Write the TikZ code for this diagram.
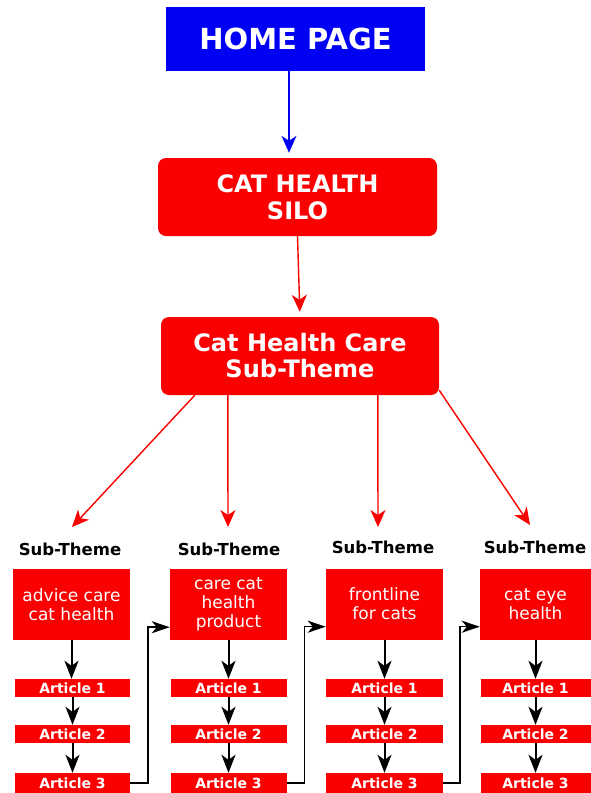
\documentclass[tikz,border=0pt]{standalone}
\usepackage{fontspec}
\setmainfont{DejaVu Sans}
\usetikzlibrary{arrows.meta,calc}
\definecolor{sred}{RGB}{250,0,0}
\definecolor{sblue}{RGB}{0,0,245}
\tikzset{
  x=1pt,y=-1pt,
  topbox/.style={fill=sblue,text=white,font=\bfseries\fontsize{29}{32}\selectfont,minimum width=259pt,minimum height=64pt,inner sep=0pt},
  redbox/.style={fill=sred,text=white,rounded corners=8pt,align=center,minimum width=279pt,minimum height=78pt,inner sep=0pt},
  themebox/.style={fill=sred,text=white,align=center,font=\fontsize{17}{19}\selectfont,minimum width=117pt,minimum height=71pt,inner sep=0pt},
  artbox/.style={fill=sred,text=white,font=\bfseries\fontsize{14}{15}\selectfont,minimum width=116pt,minimum height=18pt,inner sep=0pt},
  stlabel/.style={font=\bfseries\fontsize{16.5}{18}\selectfont,text=black},
  redarrow/.style={draw=sred,line width=1.4pt,-{Stealth[length=17pt,width=15pt,inset=5pt]}},
  bluearrow/.style={draw=sblue,line width=1.5pt,-{Stealth[length=17pt,width=15pt,inset=5pt]}},
  blkarrow/.style={draw=black,line width=2pt,-{Stealth[length=18pt,width=14pt,inset=5pt]}},
  connarrow/.style={draw=black,line width=1.5pt,-{Stealth[length=18pt,width=12pt,inset=5pt]}},
}
\begin{document}
\begin{tikzpicture}
\useasboundingbox (0,0) rectangle (591,793);
\node[topbox] (home) at (295.5,39) {HOME PAGE};
\node[redbox,font=\bfseries\fontsize{24}{27}\selectfont] (silo) at (297.5,197) {CAT HEALTH\\SILO};
\node[redbox,font=\bfseries\fontsize{24}{26}\selectfont,minimum width=278pt] (sub) at (300,356) {Cat Health Care\\Sub-Theme};
\draw[bluearrow,shorten >=5pt] (289,71) -- (silo.north -| 289,0);
\draw[redarrow,shorten >=5pt] (silo.south) -- (sub.north);
% sub-theme labels
\node[stlabel] (l1) at (70,549) {Sub-Theme};
\node[stlabel] (l2) at (229,549) {Sub-Theme};
\node[stlabel] (l3) at (383,547) {Sub-Theme};
\node[stlabel] (l4) at (535,547) {Sub-Theme};
\coordinate (e1) at (72,527);
\coordinate (e2) at (228,527);
\coordinate (e3) at (378,527);
\coordinate (e4) at (530,525);
\draw[redarrow] ($(sub.south west)+(34,0)$) -- (e1);
\draw[redarrow] ($(sub.south west)+(67,0)$) -- (e2);
\draw[redarrow] ($(sub.south west)+(217,0)$) -- (e3);
\draw[redarrow] ($(sub.south east)+(0,-5)$) -- (e4);
% theme boxes
\node[themebox] (b1) at (71.5,604.5) {advice care\\cat health};
\node[themebox] (b2) at (228.5,604.5) {care cat\\health\\product};
\node[themebox] (b3) at (384.5,604) {frontline\\for cats};
\node[themebox,minimum width=111pt] (b4) at (535.5,604) {cat eye\\health};
% articles
\foreach \c/\x/\w in {1/72.5/115,2/228.5/116,3/384.5/117,4/535.5/110}{
  \node[artbox,minimum width=\w pt] (a\c1) at (\x,688) {Article 1};
  \node[artbox,minimum width=\w pt] (a\c2) at (\x,734) {Article 2};
  \node[artbox,minimum width=\w pt,minimum height=20pt] (a\c3) at (\x,783) {Article 3};
  \draw[blkarrow] (b\c.south) -- (b\c.south |- a\c1.north);
  \draw[blkarrow] (a\c1.south) -- (a\c2.north);
  \draw[blkarrow] (a\c2.south) -- (a\c3.north);
}
% chain connectors
\draw[connarrow] (a13.east) -- ++(18,0) |- ($(b2.south west)+(0,-13)$);
\draw[connarrow] (a23.east) -- ++(18,0) |- ($(b3.south west)+(0,-13)$);
\draw[connarrow] (a33.east) -- ++(17,0) |- ($(b4.south west)+(0,-13)$);
\end{tikzpicture}
\end{document}
